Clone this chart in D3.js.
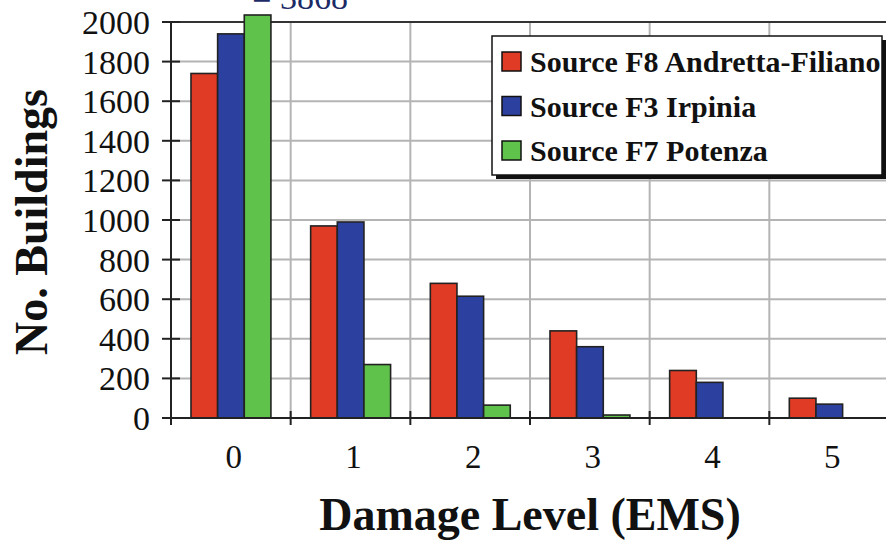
<!DOCTYPE html>
<html><head><meta charset="utf-8">
<script src="https://cdn.jsdelivr.net/npm/d3@7"></script>
<style>body{margin:0;background:#fff}svg{display:block}
svg text{font-family:"Liberation Serif","Times New Roman","DejaVu Serif",serif;}</style>
</head><body>
<svg id="c" width="886" height="540"></svg>
<script>
const categories = ["0","1","2","3","4","5"];
const seriesNames = ["Source F8 Andretta-Filiano","Source F3 Irpinia","Source F7 Potenza"];
const f8Values = [1740, 970, 680, 440, 240, 100];
const f3Values = [1940, 990, 615, 360, 180, 70];
const f7Values = [3868, 270, 65, 15, 0, 0];
const yTicks = [0,200,400,600,800,1000,1200,1400,1600,1800,2000];
const colors = ["#e03b24","#2c40a0","#5ec24b"];

(function(){
const series = [f8Values, f3Values, f7Values];
const svg = d3.select("#c");
const pL = 171, pR = 889, pT = 22, pB = 418;

const x0 = d3.scaleBand().domain(categories).range([pL, pR]).padding(0);
const bw = x0.bandwidth();
const x1 = d3.scaleBand().domain(d3.range(series.length)).range([bw*0.167, bw*0.835]).padding(0);
const y = d3.scaleLinear().domain([0,2000]).range([pB, pT]);

// horizontal grid
svg.append("g").selectAll("line").data(yTicks.filter(t=>t>0 && t<2000)).join("line")
  .attr("x1", pL).attr("x2", 886).attr("y1", d=>y(d)).attr("y2", d=>y(d))
  .attr("stroke","#b4b4b4").attr("stroke-width",2);
// vertical grid
svg.append("g").selectAll("line").data(categories.slice(1)).join("line")
  .attr("x1", d=>x0(d)).attr("x2", d=>x0(d)).attr("y1", pT).attr("y2", pB)
  .attr("stroke","#b4b4b4").attr("stroke-width",2);
// top border
svg.append("line").attr("x1", pL).attr("x2", 886).attr("y1", y(2000)).attr("y2", y(2000))
  .attr("stroke","#333").attr("stroke-width",2);

// bars
const clipTop = pT - 7;
const g = svg.append("g");
categories.forEach((c, ci) => {
  series.forEach((s, si) => {
    const v = s[ci];
    if (v <= 0) return;
    const yt = Math.max(y(v), clipTop);
    g.append("rect")
      .attr("x", x0(c) + x1(si)).attr("width", x1.bandwidth())
      .attr("y", yt).attr("height", pB - yt)
      .attr("fill", colors[si]).attr("stroke","#222").attr("stroke-width",1.6);
  });
});

// overflow label
svg.append("text").attr("x", x0("0") + x1(2) + 8).attr("y", 9)
  .style("font-size","34px").attr("fill","#1c2a66")
  .text("= " + f7Values[0]);

// y axis
const yAxis = d3.axisLeft(y).tickValues(yTicks).tickFormat(d3.format("d")).tickSize(0).tickPadding(0);
const ya = svg.append("g").attr("transform", `translate(${pL},0)`).call(yAxis)
  .attr("font-family", null).attr("font-size", null);
ya.select(".domain").remove();
ya.selectAll("text").attr("x", -21).attr("dy","0.34em")
  .style("font-size","34px").attr("fill","#111");
svg.append("g").selectAll("line").data(yTicks).join("line")
  .attr("x1", pL-9).attr("x2", pL+9).attr("y1", d=>y(d)).attr("y2", d=>y(d))
  .attr("stroke","#222").attr("stroke-width",2);
svg.append("line").attr("x1", pL).attr("x2", pL).attr("y1", pT).attr("y2", pB+7)
  .attr("stroke","#222").attr("stroke-width",2);

// x axis
svg.append("line").attr("x1", pL-9).attr("x2", 886).attr("y1", pB).attr("y2", pB)
  .attr("stroke","#222").attr("stroke-width",2);
svg.append("g").selectAll("line").data(categories.slice(1)).join("line")
  .attr("x1", d=>x0(d)).attr("x2", d=>x0(d)).attr("y1", pB-7).attr("y2", pB+7)
  .attr("stroke","#222").attr("stroke-width",2);
const xAxis = d3.axisBottom(x0).tickSize(0).tickPadding(0);
const xa = svg.append("g").attr("transform", `translate(3,${pB})`).call(xAxis)
  .attr("font-family", null).attr("font-size", null);
xa.select(".domain").remove();
xa.selectAll("text").attr("y", 50).attr("dy", 0)
  .style("font-size","33px").attr("fill","#111");

// axis titles
svg.append("text").attr("x", (pL+pR)/2).attr("y", 530).attr("text-anchor","middle")
  .style("font-weight","bold").style("font-size","46px").attr("fill","#111")
  .text("Damage Level (EMS)");
svg.append("text").attr("transform", "translate(47,222) rotate(-90)").attr("text-anchor","middle")
  .style("font-weight","bold").style("font-size","46px").attr("fill","#111")
  .text("No. Buildings");

// legend
const lg = svg.append("g");
lg.append("rect").attr("x", 496).attr("y", 40).attr("width", 390).attr("height", 139).attr("fill","#111");
lg.append("rect").attr("x", 492).attr("y", 36).attr("width", 390).attr("height", 139)
  .attr("fill","#fff").attr("stroke","#111").attr("stroke-width",1.5);
seriesNames.forEach((n, i) => {
  const cy = 62 + i*44.5;
  lg.append("rect").attr("x", 502).attr("y", cy-10).attr("width", 19).attr("height", 19)
    .attr("fill", colors[i]).attr("stroke","#111").attr("stroke-width",1.5);
  lg.append("text").attr("x", 530).attr("y", cy+10)
    .style("font-weight","bold").style("font-size","30px").attr("fill","#111")
    .text(n);
});
})();
</script>
</body></html>
